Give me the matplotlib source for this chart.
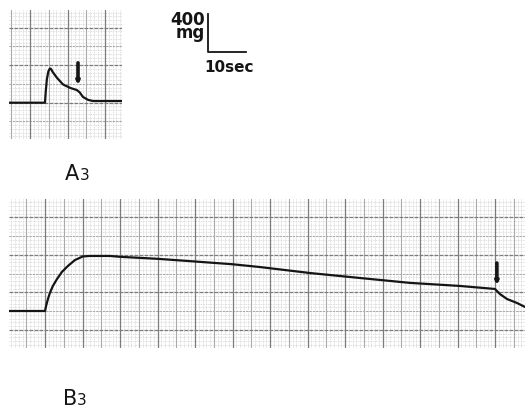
import numpy as np
import matplotlib.pyplot as plt

# contraction A3: time (s) and tension (mg)
time_a = [0, 9.6, 9.8, 10.1, 10.5, 10.9, 11.2, 11.7, 12.8, 14.4, 16.3, 18.1, 18.9, 19.7, 21.1, 22.4, 30.1]
tension_a = [0, 0, 120, 250, 335, 365, 360, 325, 265, 195, 158, 135, 108, 62, 30, 18, 18]
stim_a = 18.4

# contraction B3
time_b = [0, 9.6, 9.9, 10.4, 10.9, 11.7, 12.8, 14.1, 15.7, 17.6, 19.7, 21.5, 26.9, 29.6,
          39.5, 49.6, 59.5, 66.9, 80.3, 93.6, 106.9, 120.3, 129.6, 130.9, 132.8, 135.5, 137.6]
tension_b = [0, 0, 55, 130, 192, 267, 341, 416, 480, 544, 582, 587, 587, 578,
             557, 528, 499, 469, 405, 352, 300, 267, 235, 181, 128, 85, 43]
stim_b = 130.1

W, H = 525, 408
fig = plt.figure(figsize=(W / 100, H / 100), dpi=100)


def paper_axes(left, top, right, bottom):
    return fig.add_axes([left / W, 1 - bottom / H, (right - left) / W, (bottom - top) / H])


def grid_lines(ax, start, step, lo, hi, vertical, **kw):
    for v in np.arange(start - 50 * step, hi, step):
        if v > lo:
            if vertical:
                ax.axvline(v, **kw)
            else:
                ax.axhline(v, **kw)


def draw_paper(ax, x0, major_x, y0, major_y):
    xmin, xmax = ax.get_xlim()
    ymin, ymax = ax.get_ylim()
    # fine squares
    fine = dict(color='#d4d4d4', lw=0.6, ls=(0, (1, 1)), zorder=1)
    grid_lines(ax, x0, major_x / 10, xmin, xmax, True, **fine)
    grid_lines(ax, y0, major_y / 10, ymin, ymax, False, **fine)
    # half-divisions
    grid_lines(ax, x0 + major_x / 2, major_x, xmin, xmax, True,
               color='#aaaaaa', lw=0.8, zorder=2)
    grid_lines(ax, y0 + major_y / 2, major_y, ymin, ymax, False,
               color='#aaaaaa', lw=0.8, ls=(0, (2, 1)), zorder=2)
    # main divisions
    grid_lines(ax, x0, major_x, xmin, xmax, True, color='#7c7c7c', lw=0.9, zorder=2)
    grid_lines(ax, y0, major_y, ymin, ymax, False,
               color='#7c7c7c', lw=0.9, ls=(0, (3, 1)), zorder=2)
    ax.set_axis_off()


px_s = 3.75      # pixels per second
px_mg = 0.09375  # pixels per mg

# panel A
ax_a = paper_axes(9, 10, 122, 139)
ax_a.set_xlim(0, (122 - 9) / px_s)
ax_a.set_ylim(-(139 - 102.7) / px_mg, (102.7 - 10) / px_mg)
draw_paper(ax_a, 5.6, 10, 0, 400)
ax_a.plot(time_a, tension_a, color='#151515', lw=1.6, zorder=5, solid_capstyle='round')
ax_a.annotate('', xy=(stim_a, 190), xytext=(stim_a, 425),
              arrowprops=dict(arrowstyle='-|>', lw=2.6, color='#151515', mutation_scale=4,
                              shrinkA=0, shrinkB=0), zorder=6)

# scale bar: 10 sec x 400 mg
bar_t, bar_mg = 53.1, 541
ax_a.plot([bar_t, bar_t, bar_t + 10], [bar_mg + 400, bar_mg, bar_mg],
          color='#151515', lw=1.3, clip_on=False, zorder=6)
fig.text(205 / W, 1 - 38 / H, '400\nmg', fontsize=12, fontweight='bold', color='#151515',
         ha='right', va='baseline', multialignment='right', linespacing=0.62)
fig.text(204 / W, 1 - 72 / H, '10sec', fontsize=11, fontweight='bold', color='#151515')

# panel B
ax_b = paper_axes(9, 199, 525, 348)
ax_b.set_xlim(0, (525 - 9) / px_s)
ax_b.set_ylim(-(348 - 311) / px_mg, (311 - 199) / px_mg)
draw_paper(ax_b, 9.6, 10, 200, 400)
ax_b.plot(time_b, tension_b, color='#151515', lw=1.6, zorder=5, solid_capstyle='round')
ax_b.annotate('', xy=(stim_b, 277), xytext=(stim_b, 512),
              arrowprops=dict(arrowstyle='-|>', lw=2.6, color='#151515', mutation_scale=4,
                              shrinkA=0, shrinkB=0), zorder=6)

# panel labels
fig.text(65 / W, 1 - 180 / H, 'A', fontsize=15, color='#151515')
fig.text(80 / W, 1 - 180 / H, '3', fontsize=11, color='#151515')
fig.text(63 / W, 1 - 405 / H, 'B', fontsize=15, color='#151515')
fig.text(77 / W, 1 - 405 / H, '3', fontsize=11, color='#151515')

fig.savefig('out.png', dpi=100)
